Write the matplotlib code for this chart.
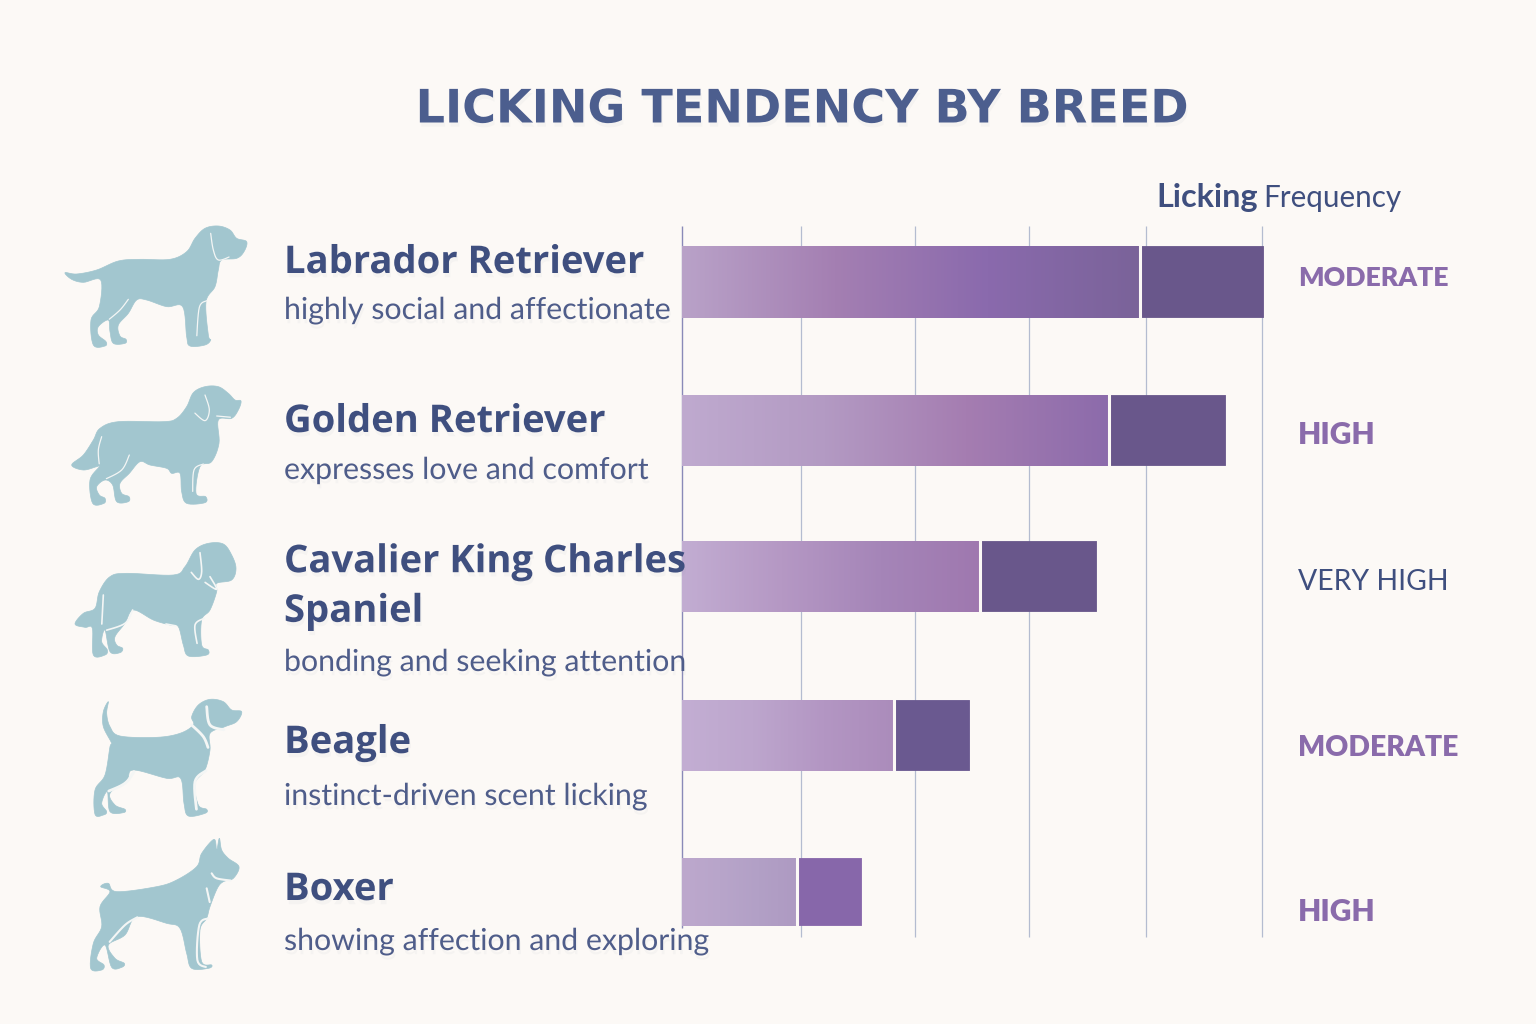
import numpy as np
import matplotlib
matplotlib.use("Agg")
import matplotlib.pyplot as plt
import matplotlib.patheffects as pe
from matplotlib.colors import LinearSegmentedColormap
from matplotlib.patches import PathPatch
from matplotlib.path import Path

breeds = ["Labrador Retriever", "Golden Retriever", "Cavalier King Charles\nSpaniel", "Beagle", "Boxer"]
notes = ["highly social and affectionate", "expresses love and comfort", "bonding and seeking attention",
         "instinct-driven scent licking", "showing affection and exploring"]
levels = ["MODERATE", "HIGH", "VERY HIGH", "MODERATE", "HIGH"]
light_values = [3.95, 3.68, 2.57, 1.83, 0.99]
total_values = [5.01, 4.68, 3.57, 2.47, 1.54]
grid_values = [0, 1.03, 2.01, 2.99, 4.0, 5.0]

# layout, in figure pixels from the top left
W, H = 1536, 1024
bar_tops = [246, 395, 541, 700, 858]
bar_heights = [72, 71, 71, 71, 68]
name_y = [263, 422, 587, 743, 890]
note_y = [310, 470, 662, 796, 941]
level_x = 1298
level_y = [278, 435, 582, 748, 912]
level_sizes = [19.2, 21.6, 20.4, 20.4, 21.6]

BG = "#fcf9f6"
NAVY = "#3f4f7f"
NOTE = "#4f5d8a"
TITLE = "#4c5e8e"
PURPLE = "#8a6bab"
DOG = "#a2c6cf"
GRID = "#b4bcd0"

gradients = [["#b9a2c8", "#a47fb2", "#8a6aad", "#7a6399"],
             ["#bfaacf", "#b39ac3", "#a57db1", "#8c6bab"],
             ["#c2add2", "#b598c4", "#a585b8", "#9f78af"],
             ["#c3aed3", "#bda6cd", "#b396c3", "#ab8cbb"],
             ["#bda8cd", "#b8a5ca", "#b2a0c6", "#ae9ac2"]]
dark_colors = ["#69578b", "#69578b", "#69578b", "#6a5990", "#8767aa"]

# dog outlines, in thirds of a pixel from each origin
dog_origins = [(40, 210), (40, 210), (60, 530), (60, 530), (60, 530)]
lab = [(75, 188), (110, 192), (170, 180), (235, 153), (300, 148), (390, 148), (440, 125), (465, 85), (495, 55),
       (535, 48), (570, 60), (590, 85), (620, 95), (612, 125), (590, 145), (545, 150), (535, 180), (525, 230),
       (498, 275), (505, 375), (512, 390), (495, 405), (450, 408), (440, 380), (428, 290), (380, 290), (320, 270),
       (290, 270), (265, 310), (235, 345), (240, 378), (258, 388), (255, 400), (220, 400), (210, 365), (205, 330),
       (175, 350), (175, 375), (198, 395), (195, 408), (160, 405), (153, 330), (178, 290), (182, 210), (130, 217),
       (95, 208)]
golden = [(95, 765), (130, 735), (160, 690), (180, 655), (235, 635), (370, 635), (410, 625), (440, 590), (460, 548),
          (495, 530), (535, 530), (565, 550), (585, 570), (603, 573), (595, 600), (575, 625), (535, 630), (537, 700),
          (515, 755), (480, 770), (468, 850), (497, 860), (495, 878), (440, 880), (425, 845), (420, 790), (395, 790),
          (380, 775), (330, 765), (300, 755), (268, 790), (240, 820), (245, 850), (267, 860), (265, 875), (230, 875),
          (218, 825), (195, 810), (170, 830), (178, 855), (195, 865), (192, 880), (158, 880), (150, 810), (178, 770),
          (170, 770), (130, 780)]
cavalier = [(45, 282), (70, 250), (105, 235), (118, 185), (150, 140), (200, 130), (340, 135), (375, 110), (405, 60),
            (445, 40), (490, 42), (515, 75), (528, 115), (515, 150), (470, 160), (470, 185), (450, 240), (425, 270),
            (425, 345), (445, 360), (440, 375), (385, 378), (370, 345), (355, 290), (330, 285), (280, 270), (220, 240),
            (195, 280), (165, 320), (170, 345), (188, 355), (180, 368), (150, 365), (135, 300), (125, 335), (142, 360),
            (135, 375), (100, 375), (97, 295), (75, 292)]
beagle = [(145, 515), (140, 550), (150, 590), (180, 618), (290, 622), (360, 610), (400, 585), (395, 560), (415, 525),
          (450, 508), (490, 515), (515, 540), (545, 545), (530, 575), (495, 590), (450, 610), (450, 660), (435, 720),
          (405, 760), (415, 825), (440, 838), (435, 850), (385, 858), (372, 820), (362, 745), (320, 745), (220, 720),
          (200, 750), (150, 790), (165, 825), (195, 838), (190, 848), (150, 845), (142, 785), (125, 820), (140, 845),
          (130, 855), (105, 853), (105, 780), (135, 735), (150, 650), (155, 640), (130, 590), (130, 545)]
boxer = [(122, 1070), (145, 1060), (170, 1085), (290, 1070), (350, 1050), (410, 1010), (425, 970), (462, 928),
         (470, 960), (478, 925), (485, 960), (505, 985), (537, 1010), (520, 1045), (490, 1055), (472, 1075),
         (450, 1130), (440, 1165), (420, 1200), (425, 1295), (455, 1305), (445, 1315), (395, 1315), (380, 1270),
         (360, 1195), (320, 1180), (230, 1160), (195, 1215), (145, 1245), (165, 1285), (193, 1300), (185, 1312),
         (155, 1312), (135, 1245), (110, 1285), (132, 1305), (125, 1320), (92, 1315), (100, 1240), (125, 1190),
         (120, 1130), (150, 1085)]
dog_outlines = [lab, golden, cavalier, beagle, boxer]

# pale fur and leg lines inside each dog
dog_details = [
    [[(512, 70), (520, 120), (535, 150), (570, 140)], [(265, 268), (240, 300), (205, 330)], [(500, 272), (478, 292), (470, 385)]],
    [[(495, 555), (508, 600), (495, 632), (462, 607)], [(268, 735), (245, 780), (195, 808)], [(530, 618), (575, 622)],
     [(490, 762), (462, 780), (458, 850)], [(185, 680), (175, 720), (178, 765)]],
    [[(420, 68), (425, 125), (415, 148), (392, 125)], [(218, 240), (195, 280), (135, 302)], [(450, 140), (470, 178), (432, 155)],
     [(432, 265), (405, 285), (412, 345)], [(130, 195), (125, 290)], [(318, 282), (350, 288)]],
    [[(440, 530), (450, 585), (495, 600)], [(395, 585), (430, 620), (445, 655)], [(222, 725), (195, 760), (142, 785)],
     [(438, 722), (405, 755), (410, 845)]],
    [[(455, 1030), (470, 1045), (515, 1052)], [(232, 1162), (195, 1185), (145, 1240)], [(445, 1165), (418, 1185), (412, 1290), (440, 1312)],
     [(440, 1075), (450, 1120)]],
]
detail_widths = [0.9, 0.9, 1.2, 2.0, 1.5]


def smooth(points, closed=True, steps=8):
    # Catmull-Rom through the points
    p = np.array(points, dtype=float)
    if closed:
        p = np.vstack([p[-1], p, p[0], p[1]])
    else:
        p = np.vstack([p[0], p, p[-1]])
    out = []
    for i in range(1, len(p) - 2):
        for t in np.linspace(0, 1, steps, endpoint=False):
            out.append(0.5 * (2 * p[i] + (p[i + 1] - p[i - 1]) * t
                              + (2 * p[i - 1] - 5 * p[i] + 4 * p[i + 1] - p[i + 2]) * t ** 2
                              + (3 * p[i] - p[i - 1] - 3 * p[i + 1] + p[i + 2]) * t ** 3))
    return np.array(out)


def to_px(xy, origin):
    return xy / 3.0 + np.array(origin)


fig = plt.figure(figsize=(W / 100, H / 100), dpi=100, facecolor=BG)
page = fig.add_axes([0, 0, 1, 1], zorder=3)
page.set_xlim(0, W)
page.set_ylim(H, 0)
page.axis("off")
page.patch.set_alpha(0)

chart = fig.add_axes([682 / W, 0, 580 / W, 1], zorder=1)
chart.set_xlim(0, 5)
chart.set_ylim(H, 0)
chart.axis("off")

# grid behind the bars
for i, g in enumerate(grid_values):
    if i == 0:
        chart.vlines(g, 226, 928, color="#8a8ab8", lw=1.0, zorder=1, clip_on=False)
    else:
        chart.vlines(g, 226, 937, color=GRID, lw=0.9, zorder=1, clip_on=False)

for i in range(len(breeds)):
    top, h = bar_tops[i], bar_heights[i]
    cmap = LinearSegmentedColormap.from_list("bar%d" % i, gradients[i])
    chart.imshow(np.linspace(0, 1, 256).reshape(1, -1), cmap=cmap, aspect="auto",
                 extent=[0, light_values[i], top + h, top], zorder=2, clip_on=False)
    chart.barh(top + h / 2 - 0.5, total_values[i] - light_values[i], height=h - 0.5, left=light_values[i],
               color=dark_colors[i], edgecolor=dark_colors[i], lw=0.6, joinstyle="round", zorder=3, clip_on=False)
    chart.vlines(light_values[i], top - 1, top + h + 1, color=BG, lw=2.2, zorder=4, clip_on=False)
chart.set_xlim(0, 5)
chart.set_ylim(H, 0)

# dog silhouettes
for outline, details, origin, lw in zip(dog_outlines, dog_details, dog_origins, detail_widths):
    xy = to_px(smooth(outline), origin)
    body = PathPatch(Path(np.vstack([xy, xy[0]]), closed=True), facecolor=DOG, edgecolor=DOG, lw=0.5, zorder=2)
    page.add_patch(body)
    for d in details:
        line = to_px(smooth(d, closed=False), origin)
        page.plot(line[:, 0], line[:, 1], color="#f4f6f5", lw=lw, solid_capstyle="round", zorder=3)

HEAD_FONT = ["Open Sans", "DejaVu Sans"]
BODY_FONT = ["Lato", "DejaVu Sans"]
# faint smudge below the lettering
soft = [pe.SimplePatchShadow(offset=(1, -3), shadow_rgbFace="#8d93a5", alpha=0.06), pe.Normal()]

page.text(802, 110, "LICKING TENDENCY BY BREED", ha="center", va="center", fontsize=33.2, fontweight="bold",
          family="DejaVu Sans", color=TITLE, zorder=5, path_effects=soft)
page.text(1156, 198, "Licking", ha="left", va="center", fontsize=23.3, fontweight="bold", family=BODY_FONT, color=NAVY)
page.text(1263, 198, "Frequency", ha="left", va="center", fontsize=21.3, family=BODY_FONT, color=NAVY)

for i in range(len(breeds)):
    page.text(284, name_y[i], breeds[i], ha="left", va="center", fontsize=27.5, fontweight="bold",
              family=HEAD_FONT, color=NAVY, linespacing=1.4, path_effects=soft)
    page.text(284, note_y[i], notes[i], ha="left", va="center", fontsize=21.8,
              family=BODY_FONT, color=NOTE, path_effects=soft)
    very = levels[i] == "VERY HIGH"
    page.text(level_x, level_y[i], levels[i], ha="left", va="center", fontsize=level_sizes[i],
              fontweight=400 if very else 800, family=BODY_FONT, color=NAVY if very else PURPLE)

fig.savefig("out.png", dpi=100, facecolor=BG)
